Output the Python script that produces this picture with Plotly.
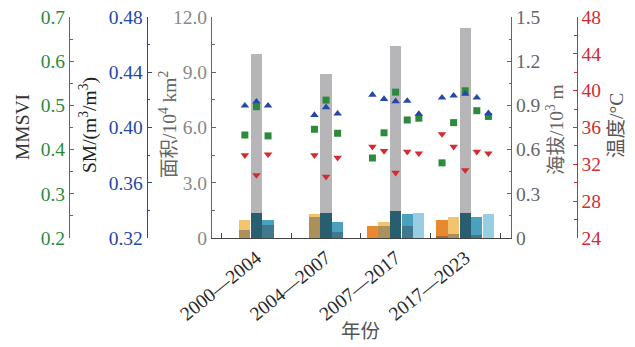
import plotly.graph_objects as go

# ---- data -------------------------------------------------------------
periods = ["2000—2004", "2004—2007", "2007—2017", "2017—2023"]

# elevation (10^3 m), one list per bar slot within each period
elev_s1 = [None, None, 0.08, 0.12]
elev_s2 = [0.12, 0.16, 0.11, 0.14]
elev_s3 = [0.17, 0.17, 0.18, 0.17]
elev_s4 = [0.12, 0.11, 0.16, 0.14]
elev_s5 = [None, None, 0.17, 0.16]

# area (10^4 km^2) per slot
area_s1 = [None, None, 0.0, 0.11]
area_s2 = [0.46, 1.16, 0.64, 0.22]
area_s3 = [10.0, 8.9, 10.4, 11.4]
area_s4 = [0.69, 0.33, 0.65, 0.18]
area_s5 = [None, None, 0.0, 0.0]

# MMSVI per slot
mmsvi_s1 = [None, None, 0.381, 0.370]
mmsvi_s2 = [0.433, 0.446, 0.438, 0.461]
mmsvi_s3 = [0.497, 0.512, 0.530, 0.533]
mmsvi_s4 = [0.431, 0.437, 0.467, 0.488]
mmsvi_s5 = [None, None, 0.471, 0.475]

# soil moisture (m^3/m^3) per slot
sm_s1 = [None, None, 0.4237, 0.4216]
sm_s2 = [0.4158, 0.4090, 0.4206, 0.4230]
sm_s3 = [0.4187, 0.4146, 0.4190, 0.4243]
sm_s4 = [0.4158, 0.4100, 0.4192, 0.4216]
sm_s5 = [None, None, 0.4098, 0.4103]

# temperature (°C) per slot
temp_s1 = [None, None, 33.92, 35.29]
temp_s2 = [33.00, 33.00, 33.45, 33.92]
temp_s3 = [30.84, 30.66, 31.09, 31.38]
temp_s4 = [33.09, 32.72, 33.37, 33.37]
temp_s5 = [None, None, 33.20, 33.20]

elev = [elev_s1, elev_s2, elev_s3, elev_s4, elev_s5]
area = [area_s1, area_s2, area_s3, area_s4, area_s5]
mmsvi = [mmsvi_s1, mmsvi_s2, mmsvi_s3, mmsvi_s4, mmsvi_s5]
sm = [sm_s1, sm_s2, sm_s3, sm_s4, sm_s5]
temp = [temp_s1, temp_s2, temp_s3, temp_s4, temp_s5]

# ---- styling ----------------------------------------------------------
W, H = 635, 347
FONT = "Liberation Serif, 'Times New Roman', 'Noto Sans CJK SC', serif"
slot_colors = ["#E8892F", "#F2C46E", "#257991", "#4BA0BE", "#98CEE1"]
GREY_OVER = "rgba(45,47,52,0.35)"
GREEN = "#2B8A3E"
BLUE = "#2448A8"
RED = "#D42A30"
AXGREY = "#666666"
SLOT_STEP = 1 / 6
BAR_W = 0.16
TICK_SIZE = 19.5


def xs(slot):
    return [g + (slot - 2) * SLOT_STEP for g in range(len(periods))]


def px(x):
    return x / W


def py(y):
    return 1 - y / H


fig = go.Figure()

# coloured elevation bars (base layer)
for k in range(5):
    fig.add_trace(go.Bar(x=xs(k), y=elev[k], width=BAR_W,
                         marker=dict(color=slot_colors[k], line=dict(width=0)),
                         yaxis="y", showlegend=False))

# translucent area bars drawn above the elevation bars
for k in range(5):
    fig.add_trace(go.Bar(x=xs(k), y=area[k], width=BAR_W,
                         marker=dict(color=GREY_OVER, line=dict(width=0)),
                         yaxis="y2", showlegend=False))

for k in range(5):
    fig.add_trace(go.Scatter(x=xs(k), y=mmsvi[k], mode="markers",
                             marker=dict(symbol="square", size=7, color=GREEN),
                             yaxis="y3", showlegend=False))
    fig.add_trace(go.Scatter(x=xs(k), y=sm[k], mode="markers",
                             marker=dict(symbol="triangle-up", size=7.5, color=BLUE),
                             yaxis="y4", showlegend=False))
    fig.add_trace(go.Scatter(x=xs(k), y=temp[k], mode="markers",
                             marker=dict(symbol="triangle-down", size=7.5, color=RED),
                             yaxis="y5", showlegend=False))

y_dom = [py(238), py(17)]


def yax(color, labcolor, rng, vals, texts, minor_dtick, **kw):
    d = dict(range=rng, domain=y_dom, showgrid=False, zeroline=False,
             showline=True, linecolor=color, linewidth=1,
             ticks="inside", ticklen=4, tickcolor=color,
             tickmode="array", tickvals=vals, ticktext=texts,
             tickfont=dict(family=FONT, size=TICK_SIZE, color=labcolor),
             minor=dict(ticks="inside", ticklen=2.5, tickcolor=color,
                        dtick=minor_dtick, tick0=rng[0]),
             automargin=False, fixedrange=True)
    d.update(kw)
    return d


fig.update_layout(
    width=W, height=H, autosize=False,
    margin=dict(l=0, r=0, t=0, b=0, pad=0),
    paper_bgcolor="white", plot_bgcolor="rgba(0,0,0,0)",
    barmode="overlay", bargap=0,
    font=dict(family=FONT, size=TICK_SIZE, color="#333"),
    xaxis=dict(domain=[px(212), px(511)], range=[-0.639, 3.658],
               showgrid=False, zeroline=False, showline=True,
               linecolor="#444", linewidth=1,
               tickmode="array", tickvals=list(range(len(periods))),
               ticktext=periods, ticks="", tickangle=-39,
               tickfont=dict(family=FONT, size=TICK_SIZE, color="#2a2a2a"),
               minor=dict(tickmode="array",
                          tickvals=[g - 0.5 for g in range(len(periods) + 1)],
                          ticks="inside", ticklen=5, tickcolor="#444"),
               anchor="y", automargin=False, fixedrange=True),
    yaxis=yax(AXGREY, "#666", [0, 1.5], [0, 0.3, 0.6, 0.9, 1.2, 1.5],
              ["0", "0.3", "0.6", "0.9", "1.2", "1.5"], 0.15,
              side="right", anchor="x"),
    yaxis2=yax(AXGREY, "#888", [0, 12], [0, 3, 6, 9, 12],
               ["0", "3.0", "6.0", "9.0", "12.0"], 1.5,
               side="left", anchor="x", overlaying="y"),
    yaxis3=yax(GREEN, GREEN, [0.2, 0.7], [0.2, 0.3, 0.4, 0.5, 0.6, 0.7],
               ["0.2", "0.3", "0.4", "0.5", "0.6", "0.7"], 0.05,
               side="left", anchor="free", position=px(69), overlaying="y"),
    yaxis4=yax(BLUE, BLUE, [0.32, 0.48], [0.32, 0.36, 0.40, 0.44, 0.48],
               ["0.32", "0.36", "0.40", "0.44", "0.48"], 0.02,
               side="left", anchor="free", position=px(146.7), overlaying="y"),
    yaxis5=yax(RED, RED, [24, 48], [24, 28, 32, 36, 40, 44, 48],
               ["24", "28", "32", "36", "40", "44", "48"], 2,
               side="right", anchor="free", position=px(576.7), overlaying="y"),
)

titles = [
    ("MMSVI", 22, 127, "#333"),
    ("SM/(m<sup>3</sup>/m<sup>3</sup>)", 88, 125, "#222"),
    ("面积/10<sup>4</sup> km<sup>2</sup>", 168, 124, "#666"),
    ("海拔/10<sup>3</sup> m", 555, 130, "#666"),
    ("温度/°C", 617, 126, "#555"),
]
for text, x, y, c in titles:
    fig.add_annotation(text=text, x=px(x), y=py(y), xref="paper", yref="paper",
                       textangle=-90, showarrow=False, xanchor="center",
                       yanchor="middle", font=dict(family=FONT, size=19.5, color=c))

fig.add_annotation(text="年份", x=px(360), y=py(331), xref="paper", yref="paper",
                   showarrow=False, xanchor="center", yanchor="middle",
                   font=dict(family=FONT, size=19.5, color="#555"))

fig.write_html("out.html")
